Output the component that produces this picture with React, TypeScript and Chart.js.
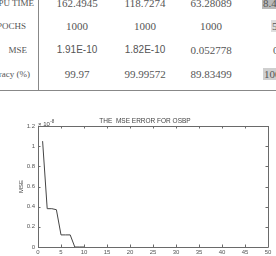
import React, { useEffect, useRef } from "react";
import { Chart, registerables } from "chart.js";

Chart.register(...registerables);

// ---- chart data ----
const epochs = [1, 2, 3, 4, 5, 6, 7, 8, 9, 10];
const mseValues = [1.05, 0.38, 0.38, 0.37, 0.12, 0.12, 0.12, 0, 0, 0];
const xTickValues = [0, 5, 10, 15, 20, 25, 30, 35, 40, 45, 50];
const yTickValues = [0, 0.2, 0.4, 0.6, 0.8, 1, 1.2];
const chartTitle = "THE  MSE ERROR FOR OSBP";
const yAxisTitle = "MSE";
const xAxisTitle = "EPOCHS";
const exponentBase = "\u00d7 10";
const exponentPower = "-8";

// ---- table data ----
const rowLabels = ["CPU TIME", "EPOCHS", "MSE", "Accuracy (%)"];
const col1 = ["162.4945", "1000", "1.91E-10", "99.97"];
const col2 = ["118.7274", "1000", "1.82E-10", "99.99572"];
const col3 = ["63.28089", "1000", "0.052778", "89.83499"];
const col4 = ["8.4801", "5000", "0.0521", "100"];

const serif = "'Liberation Serif', 'DejaVu Serif', serif";
const sans = "'Liberation Sans', Arial, sans-serif";
const rowY = [3, 26, 50, 74];
const colX = [77, 145, 211];
const labelRight = [34, 26, 27, 30];
const col4X = [262, 271, 272, 263];
const col4Bg = ["#b9b9b9", "#dedede", "#ffffff", "#cfcfcf"];
const sansCells: Record<string, boolean> = { "1.91E-10": true, "1.82E-10": true };

const framePlugin = {
  id: "matlabFrame",
  afterDraw(chart: any) {
    const { ctx, chartArea } = chart;
    const { left, right, top, bottom } = chartArea;
    const xs = chart.scales.x;
    const ys = chart.scales.y;
    ctx.save();
    ctx.strokeStyle = "#6a6a6a";
    ctx.lineWidth = 1;
    ctx.beginPath();
    ctx.rect(Math.round(left) + 0.5, Math.round(top) + 0.5, Math.round(right - left), Math.round(bottom - top));
    ctx.stroke();
    const tl = 2.5;
    ctx.beginPath();
    xTickValues.forEach((v) => {
      const px = Math.round(xs.getPixelForValue(v)) + 0.5;
      ctx.moveTo(px, bottom);
      ctx.lineTo(px, bottom - tl);
      ctx.moveTo(px, top);
      ctx.lineTo(px, top + tl);
    });
    yTickValues.forEach((v) => {
      const py = Math.round(ys.getPixelForValue(v)) + 0.5;
      ctx.moveTo(left, py);
      ctx.lineTo(left + tl, py);
      ctx.moveTo(right, py);
      ctx.lineTo(right - tl, py);
    });
    ctx.stroke();

    ctx.fillStyle = "#444";
    ctx.font = "6.5px " + sans;
    ctx.textAlign = "center";
    ctx.textBaseline = "middle";
    ctx.fillText(chartTitle, 145, top - 4.5);

    ctx.textAlign = "left";
    ctx.font = "6px " + sans;
    ctx.fillText(exponentBase, left, top - 2);
    const w = ctx.measureText(exponentBase).width;
    ctx.font = "4.5px " + sans;
    ctx.fillText(exponentPower, left + w + 0.5, top - 4.5);

    ctx.font = "6px " + sans;
    ctx.save();
    ctx.translate(21, (top + bottom) / 2);
    ctx.rotate(-Math.PI / 2);
    ctx.textAlign = "center";
    ctx.fillText(yAxisTitle, 0, 0);
    ctx.restore();

    ctx.textAlign = "center";
    ctx.textBaseline = "top";
    ctx.fillText(xAxisTitle, 111, bottom + 8.5);
    ctx.restore();
  },
};

function MseChart() {
  const ref = useRef<HTMLCanvasElement | null>(null);
  useEffect(() => {
    if (!ref.current) return;
    const chart = new Chart(ref.current, {
      type: "line",
      data: {
        datasets: [
          {
            data: epochs.map((e, i) => ({ x: e, y: mseValues[i] })),
            borderColor: "#444",
            borderWidth: 1,
            pointRadius: 0,
            tension: 0,
            fill: false,
          },
        ],
      },
      options: {
        animation: false,
        responsive: false,
        maintainAspectRatio: false,
        devicePixelRatio: 1,
        layout: { padding: { left: 0, right: 8, top: 16, bottom: 0 } },
        plugins: { legend: { display: false }, title: { display: false }, tooltip: { enabled: false } },
        scales: {
          x: {
            type: "linear",
            min: 0,
            max: 50,
            afterFit: (s: any) => {
              s.height = 9;
            },
            afterBuildTicks: (s: any) => {
              s.ticks = xTickValues.map((v) => ({ value: v }));
            },
            grid: { display: false, drawTicks: false },
            border: { display: false },
            ticks: {
              font: { size: 6, family: sans },
              color: "#555",
              padding: 2,
              maxRotation: 0,
              autoSkip: false,
              callback: (v: any) => String(v),
            },
          },
          y: {
            type: "linear",
            min: 0,
            max: 1.2,
            afterFit: (s: any) => {
              s.width = 38;
            },
            afterBuildTicks: (s: any) => {
              s.ticks = yTickValues.map((v) => ({ value: v }));
            },
            grid: { display: false, drawTicks: false },
            border: { display: false },
            ticks: {
              font: { size: 6, family: sans },
              color: "#555",
              padding: 3,
              autoSkip: false,
              callback: (v: any) => String(Number(Number(v).toFixed(1))),
            },
          },
        },
      },
      plugins: [framePlugin],
    });
    return () => chart.destroy();
  }, []);
  return (
    <canvas
      ref={ref}
      width={276}
      height={146}
      style={{ position: "absolute", left: 0, top: 110, width: 276, height: 146 }}
    />
  );
}

function Cell({ text, x, y, align, bg, size }: { text: string; x: number; y: number; align: "center" | "left" | "right"; bg?: string; size?: number }) {
  const tx = align === "center" ? "-50%" : align === "right" ? "-100%" : "0";
  return (
    <span
      style={{
        position: "absolute",
        left: x,
        top: y,
        transform: `translate(${tx}, -50%)`,
        whiteSpace: "nowrap",
        lineHeight: "12px",
        fontSize: size ?? (sansCells[text] ? 10 : 11),
        fontFamily: sansCells[text] ? sans : serif,
        color: "#555",
        background: bg,
        padding: bg ? "0 1px" : 0,
      }}
    >
      {text}
    </span>
  );
}

export default function App() {
  useEffect(() => {
    document.body.style.margin = "0";
  }, []);
  const cols = [col1, col2, col3];
  return (
    <div
      style={{
        position: "fixed",
        left: 0,
        top: 0,
        width: 276,
        height: 256,
        overflow: "hidden",
        background: "#fff",
      }}
    >
      <div style={{ position: "absolute", left: 38, top: 0, width: 1, height: 91, background: "#888" }} />
      <div style={{ position: "absolute", left: 0, top: 90, width: 276, height: 1, background: "#888" }} />
      {rowLabels.map((t, i) => (
        <Cell key={"l" + i} text={t} x={labelRight[i]} y={rowY[i]} align="right" size={9} />
      ))}
      {cols.map((col, c) =>
        col.map((t, i) => <Cell key={c + "-" + i} text={t} x={colX[c]} y={rowY[i]} align="center" />)
      )}
      {col4.map((t, i) => (
        <Cell key={"c4" + i} text={t} x={col4X[i]} y={rowY[i]} align="left" bg={col4Bg[i]} />
      ))}
      <MseChart />
    </div>
  );
}
